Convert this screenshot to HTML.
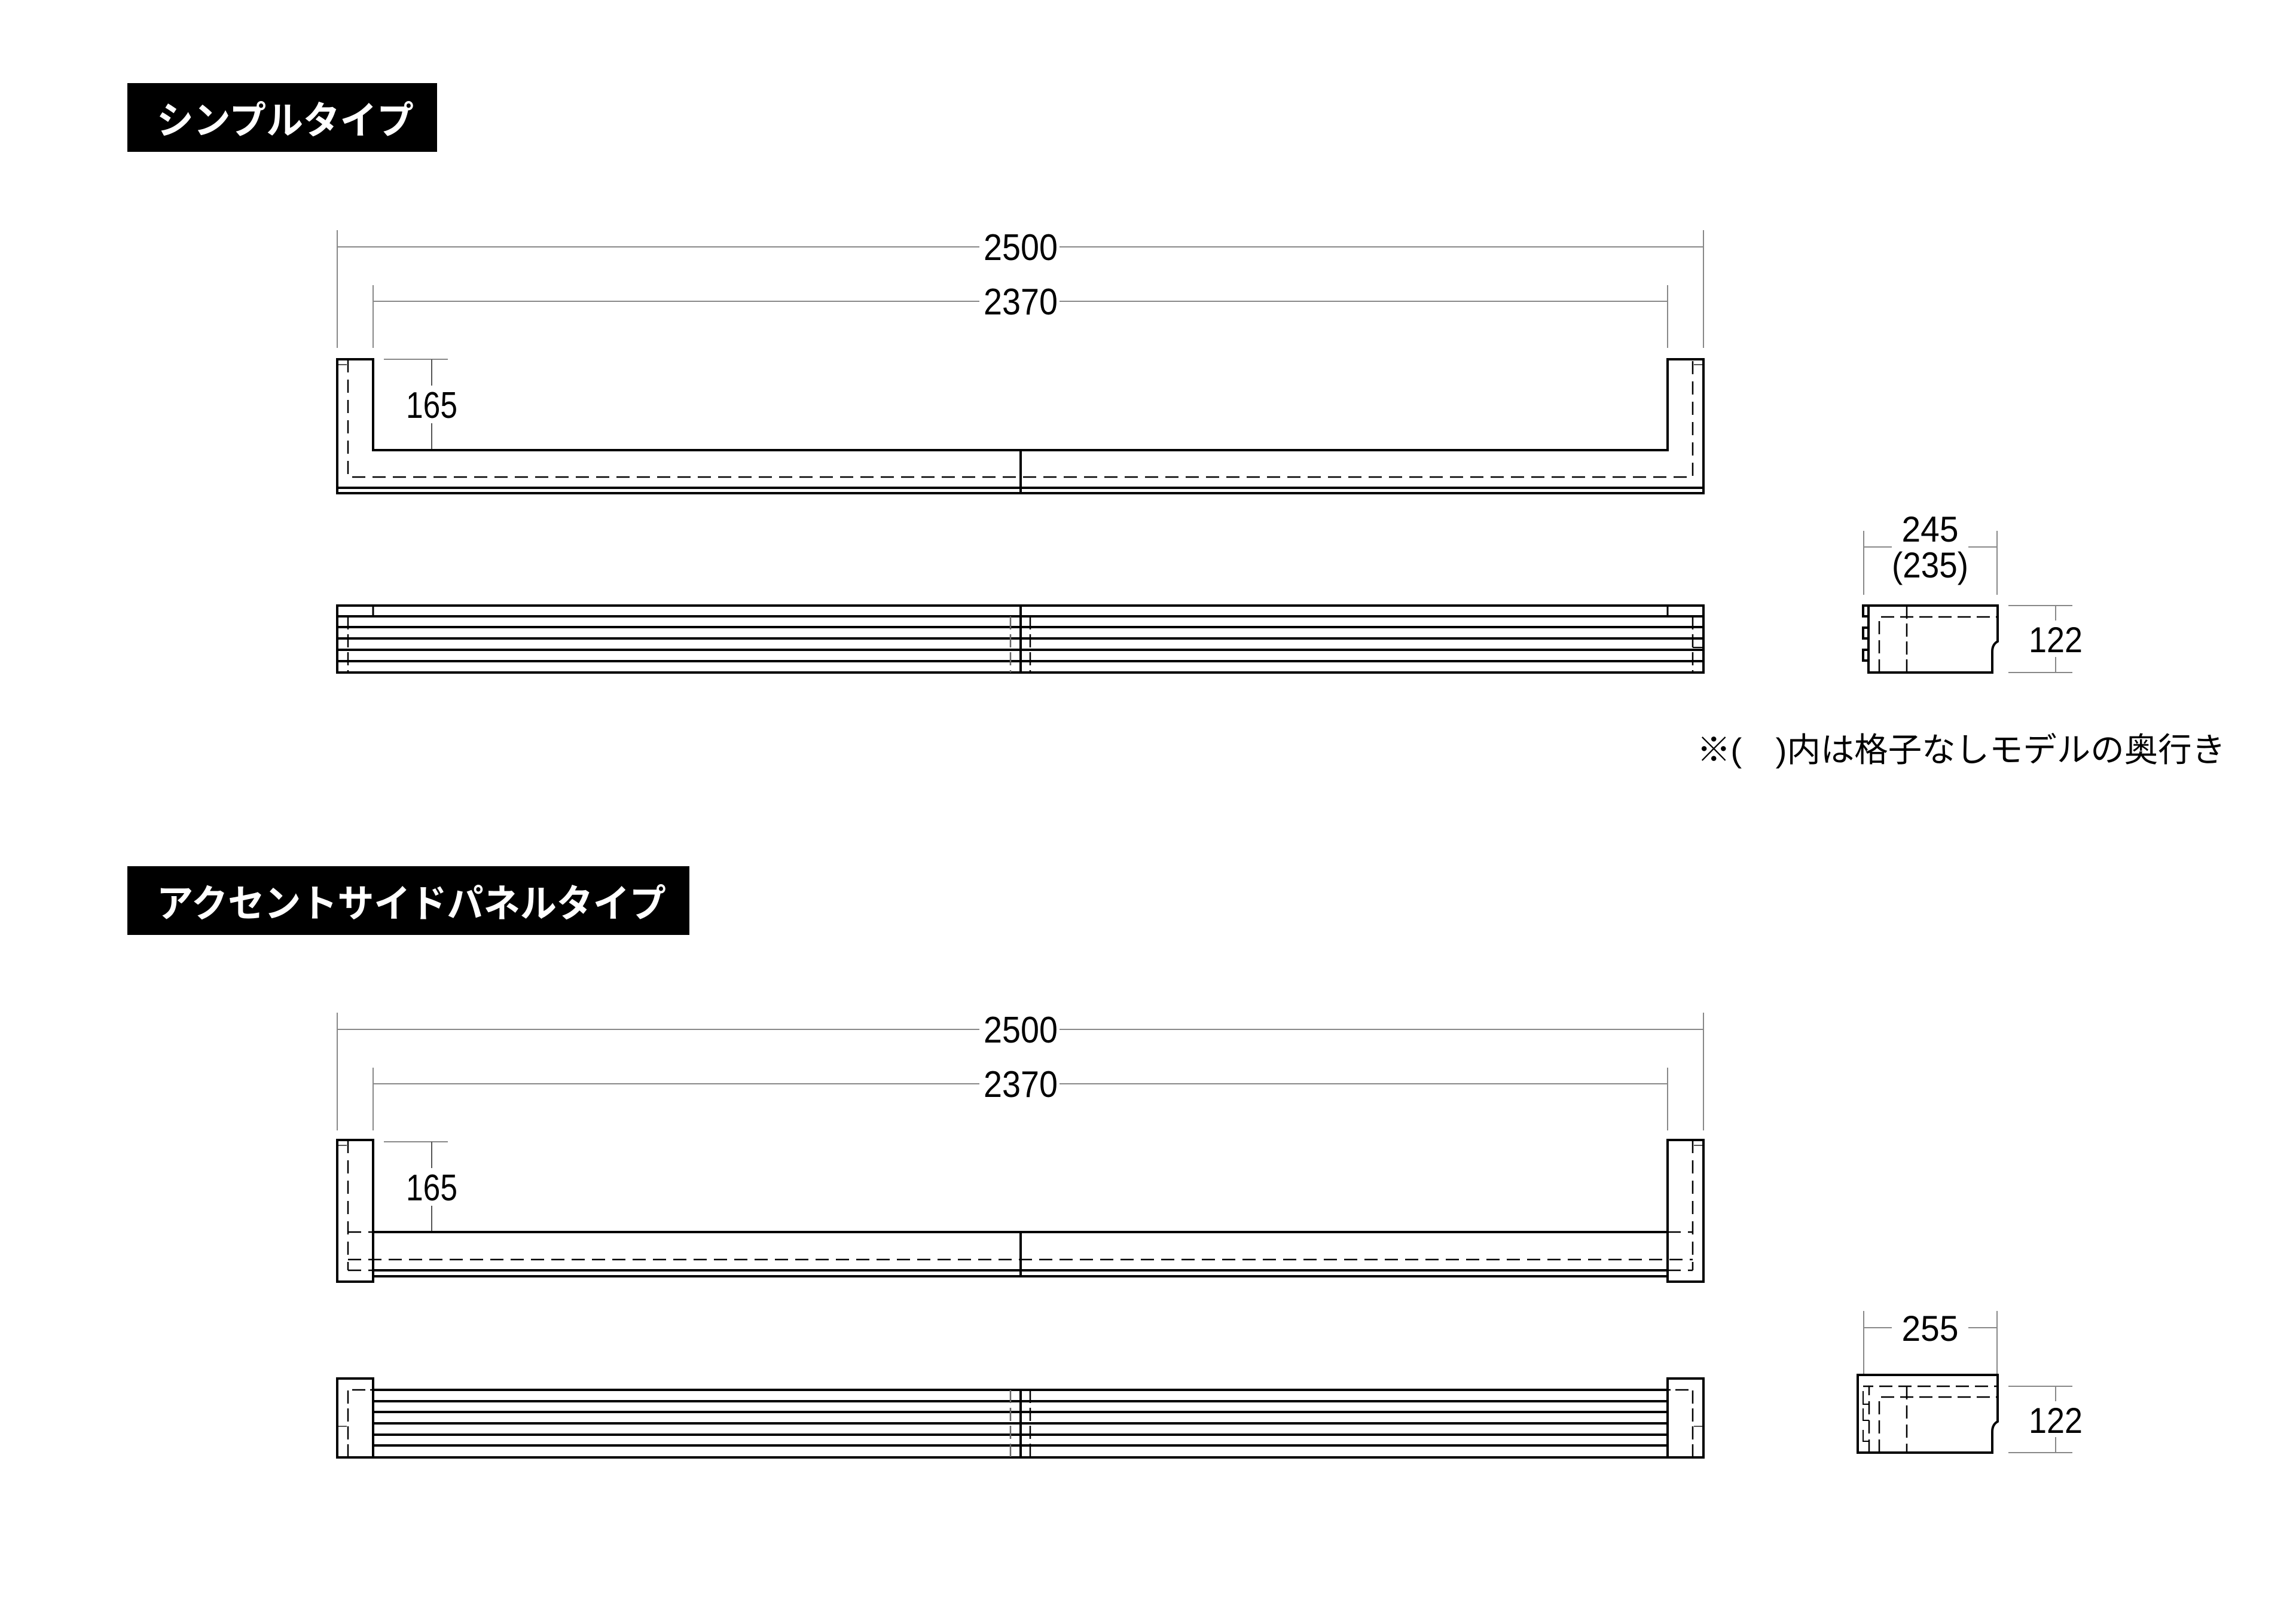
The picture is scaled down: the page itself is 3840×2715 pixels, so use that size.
<!DOCTYPE html>
<html><head><meta charset="utf-8"><style>
html,body{margin:0;padding:0;background:#fff;}
svg{display:block;}
.t{font-family:"Liberation Sans","Noto Sans CJK JP",sans-serif;}
</style></head><body>
<svg width="3840" height="2715" viewBox="0 0 3840 2715" xmlns="http://www.w3.org/2000/svg">
<defs>
<g id="dimsH">
  <line x1="564" y1="385" x2="564" y2="582" stroke="#888" stroke-width="2"/>
  <line x1="2849" y1="385" x2="2849" y2="582" stroke="#888" stroke-width="2"/>
  <line x1="564" y1="413" x2="1638" y2="413" stroke="#888" stroke-width="2"/>
  <line x1="1772" y1="413" x2="2849" y2="413" stroke="#888" stroke-width="2"/>
  <text class="t" x="1707" y="435" font-size="62" text-anchor="middle" textLength="124" lengthAdjust="spacingAndGlyphs">2500</text>
  <line x1="624" y1="477" x2="624" y2="582" stroke="#888" stroke-width="2"/>
  <line x1="2789" y1="477" x2="2789" y2="582" stroke="#888" stroke-width="2"/>
  <line x1="624" y1="504" x2="1638" y2="504" stroke="#888" stroke-width="2"/>
  <line x1="1772" y1="504" x2="2789" y2="504" stroke="#888" stroke-width="2"/>
  <text class="t" x="1707" y="526" font-size="62" text-anchor="middle" textLength="124" lengthAdjust="spacingAndGlyphs">2370</text>
  <line x1="642" y1="601" x2="749" y2="601" stroke="#888" stroke-width="2"/>
  <line x1="722" y1="601" x2="722" y2="645" stroke="#555" stroke-width="2"/>
  <line x1="722" y1="708" x2="722" y2="753" stroke="#555" stroke-width="2"/>
  <text class="t" x="722" y="699" font-size="62" text-anchor="middle" textLength="86" lengthAdjust="spacingAndGlyphs">165</text>
</g>
</defs>

<!-- ========== Section 1 ========== -->
<rect x="213" y="139" width="518" height="115" fill="#000"/>
<text class="t" x="262" y="224" font-size="64" font-weight="bold" fill="#fff" textLength="430" lengthAdjust="spacingAndGlyphs">シンプルタイプ</text>

<use href="#dimsH"/>

<g fill="none" stroke="#000" stroke-width="4">
  <path d="M564 601 H624 V753 H2789 V601 H2849 V825 H564 Z"/>
  <line x1="564" y1="816" x2="2849" y2="816"/>
  <line x1="1707" y1="753" x2="1707" y2="825"/>
</g>
<g fill="none" stroke="#000" stroke-width="2.5" stroke-dasharray="22 12">
  <path d="M582 601 V798 H2831 V601"/>
</g>
<line x1="566" y1="610" x2="580" y2="610" stroke="#555" stroke-width="2"/>
<line x1="2833" y1="610" x2="2847" y2="610" stroke="#555" stroke-width="2"/>

<g fill="none" stroke="#000" stroke-width="4">
  <rect x="564" y="1013" width="2285" height="112"/>
  <line x1="564" y1="1031" x2="2849" y2="1031"/>
  <line x1="564" y1="1049" x2="2849" y2="1049"/>
  <line x1="564" y1="1068" x2="2849" y2="1068"/>
  <line x1="564" y1="1087" x2="2849" y2="1087"/>
  <line x1="564" y1="1106" x2="2849" y2="1106"/>
  <line x1="1707" y1="1013" x2="1707" y2="1125"/>
</g>
<line x1="624" y1="1013" x2="624" y2="1031" stroke="#000" stroke-width="3"/>
<line x1="2789" y1="1013" x2="2789" y2="1031" stroke="#000" stroke-width="3"/>
<g stroke="#000" stroke-width="2.5" stroke-dasharray="22 8">
  <line x1="582" y1="1031" x2="582" y2="1125"/>
  <line x1="2831" y1="1031" x2="2831" y2="1125"/>
  <line x1="1690" y1="1031" x2="1690" y2="1125" stroke="#666"/>
  <line x1="1723" y1="1031" x2="1723" y2="1125"/>
</g>
<line x1="2831" y1="1083" x2="2849" y2="1083" stroke="#000" stroke-width="2"/>

<g stroke="#888" stroke-width="2" fill="none">
  <line x1="3117" y1="888" x2="3117" y2="995"/>
  <line x1="3340" y1="888" x2="3340" y2="995"/>
  <line x1="3117" y1="915" x2="3164" y2="915"/>
  <line x1="3292" y1="915" x2="3340" y2="915"/>
  <line x1="3359" y1="1013" x2="3466" y2="1013"/>
  <line x1="3359" y1="1125" x2="3466" y2="1125"/>
  <line x1="3438" y1="1013" x2="3438" y2="1038"/>
  <line x1="3438" y1="1099" x2="3438" y2="1125"/>
</g>
<text class="t" x="3228" y="906" font-size="60" text-anchor="middle" textLength="95" lengthAdjust="spacingAndGlyphs">245</text>
<text class="t" x="3228" y="966" font-size="60" text-anchor="middle" textLength="128" lengthAdjust="spacingAndGlyphs">(235)</text>
<text class="t" x="3438" y="1091" font-size="60" text-anchor="middle" textLength="90" lengthAdjust="spacingAndGlyphs">122</text>
<g fill="none" stroke="#000" stroke-width="4">
  <path d="M3125 1013 H3341 V1073 Q3332 1078 3332 1090 V1125 H3125 Z"/>
  <path d="M3125 1013 H3116 V1031 H3125"/>
  <path d="M3125 1050 H3116 V1068 H3125"/>
  <path d="M3125 1087 H3116 V1105 H3125"/>
</g>
<line x1="3189" y1="1013" x2="3189" y2="1125" stroke="#000" stroke-width="2.5" stroke-dasharray="22 8"/>
<path d="M3143 1125 V1032 H3341" fill="none" stroke="#000" stroke-width="2.5" stroke-dasharray="22 10"/>

<text class="t" x="2838" y="1274" font-size="56" textLength="884" lengthAdjust="spacingAndGlyphs">※(　)内は格子なしモデルの奥行き</text>

<!-- ========== Section 2 ========== -->
<g transform="translate(0,-6)">
<rect x="213" y="1455" width="940" height="115" fill="#000"/>
<text class="t" x="262" y="1540" font-size="64" font-weight="bold" fill="#fff" textLength="852" lengthAdjust="spacingAndGlyphs">アクセントサイドパネルタイプ</text>

<use href="#dimsH" transform="translate(0,1315)"/>

<g fill="none" stroke="#000" stroke-width="4">
  <rect x="564" y="1913" width="60" height="237"/>
  <rect x="2789" y="1913" width="60" height="237"/>
  <line x1="624" y1="2067" x2="2789" y2="2067"/>
  <line x1="624" y1="2131" x2="2789" y2="2131"/>
  <line x1="624" y1="2141" x2="2789" y2="2141"/>
  <line x1="1707" y1="2067" x2="1707" y2="2141"/>
</g>
<g fill="none" stroke="#000" stroke-width="2.5" stroke-dasharray="22 12">
  <line x1="582" y1="1913" x2="582" y2="2131"/>
  <line x1="2831" y1="1913" x2="2831" y2="2131"/>
  <line x1="582" y1="2113" x2="2831" y2="2113"/>
  <line x1="582" y1="2067" x2="624" y2="2067"/>
  <line x1="582" y1="2131" x2="624" y2="2131"/>
  <line x1="2789" y1="2067" x2="2831" y2="2067"/>
  <line x1="2789" y1="2131" x2="2831" y2="2131"/>
</g>
<line x1="566" y1="1922" x2="580" y2="1922" stroke="#555" stroke-width="2"/>
<line x1="2833" y1="1922" x2="2847" y2="1922" stroke="#555" stroke-width="2"/>

<g fill="none" stroke="#000" stroke-width="4">
  <rect x="564" y="2312" width="60" height="132"/>
  <rect x="2789" y="2312" width="60" height="132"/>
  <line x1="624" y1="2331" x2="2789" y2="2331"/>
  <line x1="624" y1="2350" x2="2789" y2="2350"/>
  <line x1="624" y1="2368" x2="2789" y2="2368"/>
  <line x1="624" y1="2387" x2="2789" y2="2387"/>
  <line x1="624" y1="2406" x2="2789" y2="2406"/>
  <line x1="624" y1="2424" x2="2789" y2="2424"/>
  <line x1="624" y1="2444" x2="2789" y2="2444"/>
  <line x1="1707" y1="2331" x2="1707" y2="2444"/>
</g>
<g fill="none" stroke="#000" stroke-width="2.5" stroke-dasharray="22 8">
  <path d="M582 2444 V2331 H624"/>
  <path d="M2831 2444 V2331 H2789"/>
  <line x1="1690" y1="2331" x2="1690" y2="2444" stroke="#666"/>
  <line x1="1723" y1="2331" x2="1723" y2="2444"/>
</g>
<line x1="566" y1="2392" x2="580" y2="2392" stroke="#555" stroke-width="2"/>
<line x1="2833" y1="2392" x2="2847" y2="2392" stroke="#555" stroke-width="2"/>

<g stroke="#888" stroke-width="2" fill="none">
  <line x1="3117" y1="2199" x2="3117" y2="2306"/>
  <line x1="3340" y1="2199" x2="3340" y2="2306"/>
  <line x1="3117" y1="2227" x2="3164" y2="2227"/>
  <line x1="3292" y1="2227" x2="3340" y2="2227"/>
  <line x1="3359" y1="2325" x2="3466" y2="2325"/>
  <line x1="3359" y1="2436" x2="3466" y2="2436"/>
  <line x1="3438" y1="2325" x2="3438" y2="2350"/>
  <line x1="3438" y1="2410" x2="3438" y2="2436"/>
</g>
<text class="t" x="3228" y="2249" font-size="60" text-anchor="middle" textLength="95" lengthAdjust="spacingAndGlyphs">255</text>
<text class="t" x="3438" y="2403" font-size="60" text-anchor="middle" textLength="90" lengthAdjust="spacingAndGlyphs">122</text>
<path d="M3107 2306 H3341 V2384 Q3332 2389 3332 2401 V2436 H3107 Z" fill="none" stroke="#000" stroke-width="4"/>
<g fill="none" stroke="#000" stroke-width="2.5" stroke-dasharray="22 10">
  <path d="M3126 2436 V2325 H3341"/>
  <path d="M3116 2325 H3126"/>
  <path d="M3143 2436 V2343 H3341"/>
  <line x1="3189" y1="2325" x2="3189" y2="2436"/>
</g>
<g fill="none" stroke="#000" stroke-width="2">
  <path d="M3116 2333 V2355 H3126"/>
  <path d="M3116 2362 V2382 H3126"/>
  <path d="M3116 2398 V2417 H3126"/>
</g>
</g>
</svg>
</body></html>
